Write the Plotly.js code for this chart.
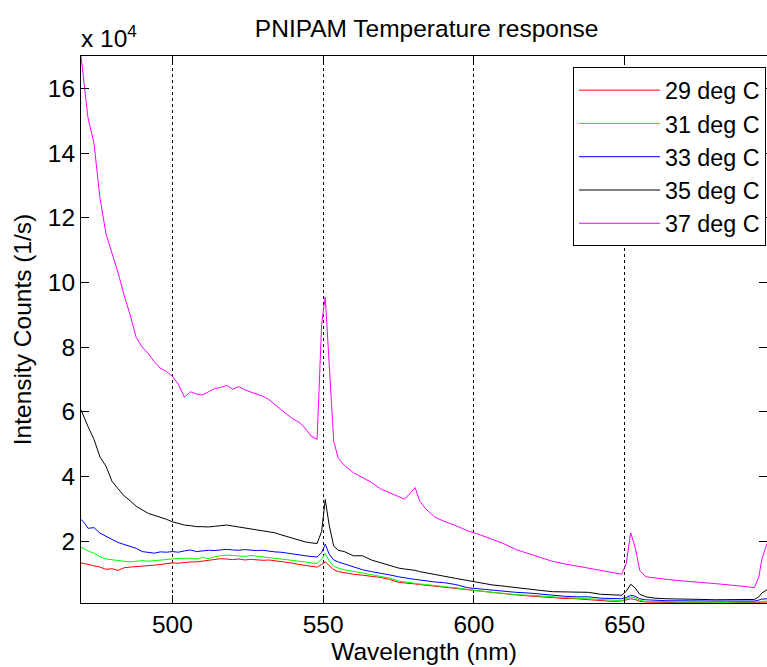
<!DOCTYPE html>
<html>
<head>
<meta charset="utf-8">
<script src="https://cdn.plot.ly/plotly-3.0.1.min.js"></script>
<style>html,body{margin:0;padding:0;background:#fff;}#chart{width:767px;height:667px;}</style>
</head>
<body>
<div id="chart"></div>
<script>
// Wavelength (nm)
var wavelength = [469.7,471,472,474,476,478,480,482,484,486,488,490,492,494,496,498,500,502,504,506,508,510,512,514,516,518,520,522,524,526,528,530,532,534,536,538,540,542,544,546,548,549.5,550.7,552,553.5,555,557,560,563,566,569,572,575,577,579,580.5,582,584,587,590,594,598,602,606,610,614,618,622,626,630,634,638,642,646,649,650.5,652,653.5,655,657,660,664,668,672,676,680,684,688,691,693,694.5,695.5,697.2];
// Intensity counts (1/s), in units of 10^4
var i29 = [1.33,1.30,1.28,1.24,1.20,1.13,1.15,1.10,1.18,1.20,1.21,1.22,1.24,1.26,1.28,1.30,1.33,1.32,1.35,1.36,1.36,1.38,1.40,1.44,1.46,1.45,1.43,1.45,1.42,1.44,1.42,1.41,1.42,1.40,1.38,1.35,1.32,1.28,1.26,1.22,1.20,1.28,1.36,1.25,1.12,1.06,1.02,0.98,0.95,0.92,0.88,0.82,0.73,0.71,0.70,0.68,0.66,0.64,0.60,0.58,0.54,0.48,0.45,0.40,0.37,0.34,0.31,0.28,0.26,0.23,0.22,0.20,0.18,0.14,0.15,0.18,0.22,0.20,0.14,0.12,0.11,0.10,0.10,0.10,0.09,0.10,0.10,0.10,0.09,0.10,0.11,0.12,0.12];
var i31 = [1.82,1.75,1.70,1.63,1.52,1.45,1.42,1.40,1.38,1.36,1.37,1.40,1.38,1.40,1.43,1.45,1.46,1.47,1.46,1.48,1.45,1.50,1.46,1.52,1.55,1.57,1.56,1.55,1.53,1.56,1.54,1.52,1.50,1.48,1.46,1.44,1.41,1.38,1.36,1.33,1.31,1.45,1.62,1.40,1.22,1.17,1.12,1.07,1.02,0.97,0.92,0.86,0.77,0.74,0.72,0.70,0.68,0.66,0.62,0.60,0.56,0.50,0.46,0.42,0.38,0.35,0.33,0.30,0.28,0.26,0.24,0.22,0.20,0.17,0.16,0.22,0.28,0.25,0.17,0.14,0.13,0.12,0.12,0.12,0.11,0.11,0.11,0.12,0.11,0.12,0.13,0.14,0.15];
var i33 = [2.67,2.55,2.40,2.42,2.25,2.15,2.05,1.96,1.90,1.85,1.78,1.68,1.65,1.63,1.67,1.66,1.68,1.66,1.70,1.73,1.68,1.70,1.72,1.71,1.74,1.75,1.73,1.72,1.74,1.72,1.71,1.72,1.69,1.67,1.66,1.64,1.62,1.58,1.55,1.52,1.51,1.65,1.91,1.60,1.42,1.36,1.30,1.22,1.12,1.06,1.02,0.96,0.90,0.86,0.84,0.82,0.80,0.77,0.74,0.72,0.66,0.56,0.52,0.48,0.44,0.42,0.40,0.36,0.33,0.30,0.28,0.28,0.24,0.22,0.22,0.26,0.33,0.30,0.22,0.19,0.17,0.16,0.16,0.15,0.15,0.15,0.15,0.15,0.15,0.15,0.18,0.21,0.22];
var i35 = [6.06,5.75,5.55,5.15,4.60,4.32,3.85,3.62,3.40,3.25,3.08,2.97,2.86,2.80,2.75,2.68,2.60,2.55,2.50,2.48,2.45,2.45,2.44,2.46,2.48,2.50,2.47,2.44,2.42,2.40,2.36,2.33,2.30,2.26,2.20,2.14,2.08,2.03,1.98,1.95,1.93,2.30,3.29,2.50,1.85,1.72,1.68,1.55,1.55,1.42,1.33,1.24,1.17,1.14,1.12,1.10,1.06,1.02,0.96,0.92,0.85,0.78,0.72,0.65,0.61,0.56,0.52,0.48,0.44,0.43,0.43,0.42,0.36,0.34,0.33,0.45,0.67,0.55,0.36,0.28,0.24,0.22,0.22,0.21,0.20,0.19,0.20,0.19,0.21,0.20,0.28,0.40,0.50];
var i37 = [17.0,15.9,15.1,14.3,12.6,11.5,10.9,10.3,9.6,9.0,8.3,8.0,7.8,7.55,7.35,7.25,7.1,6.85,6.45,6.62,6.55,6.52,6.62,6.72,6.75,6.82,6.70,6.78,6.68,6.62,6.55,6.48,6.38,6.22,6.05,5.92,5.78,5.68,5.50,5.25,5.15,8.7,9.55,7.6,5.1,4.56,4.35,4.12,3.98,3.82,3.62,3.50,3.40,3.30,3.50,3.66,3.25,3.00,2.75,2.62,2.48,2.32,2.20,2.06,1.92,1.74,1.62,1.48,1.38,1.30,1.24,1.17,1.10,1.03,0.98,1.30,2.26,1.80,1.10,0.90,0.86,0.82,0.78,0.74,0.72,0.69,0.66,0.62,0.59,0.56,0.90,1.45,1.93];
var seriesNames = ['29 deg C','31 deg C','33 deg C','35 deg C','37 deg C'];
var seriesValues = [i29, i31, i33, i35, i37];
var seriesColors = ['#ff0000','#00ff00','#0000ff','#000000','#ff00ff'];
var xTicks = [500,550,600,650];
var yTicks = [2,4,6,8,10,12,14,16];

var FONT = 'Liberation Sans, Arial, Helvetica, sans-serif';
var FS = 24.5;
var traces = seriesValues.map(function(v, k){
  return {x: wavelength, y: v, type:'scatter', mode:'lines', name: seriesNames[k],
    legendgroup: 'g'+k,
    line:{color: seriesColors[k], width:1}};
});

var layout = {
  width:767, height:667,
  margin:{l:81, r:0, t:56, b:64},
  paper_bgcolor:'#fff', plot_bgcolor:'#fff',
  font:{family:FONT, size:FS, color:'#000'},
  title:{text:'PNIPAM Temperature response', font:{family:FONT, size:FS, color:'#000'}, x:0.5563, xanchor:'center', y:0.957, yanchor:'middle'},
  showlegend:true,
  legend:{x:0.9985, xanchor:'right', y:0.979, yanchor:'top', bgcolor:'#fff', bordercolor:'#000', borderwidth:1,
    font:{family:FONT, size:23.3, color:'#000'}, itemwidth:81, tracegroupgap:0, valign:'middle'},
  xaxis:{range:[469.7,697.2], tickvals:xTicks, ticks:'inside', ticklen:8, tickcolor:'#000',
    showline:true, linecolor:'#000', linewidth:1, mirror:'ticks', zeroline:false,
    showgrid:true, gridcolor:'#000', griddash:'dot', gridwidth:1, ticklabelstandoff:0,
    tickfont:{family:FONT, size:FS, color:'#000'},
    title:{text:'Wavelength (nm)', font:{family:FONT, size:FS, color:'#000'}, standoff:2}},
  yaxis:{range:[0.09,17.0], tickvals:yTicks, ticks:'inside', ticklen:8, tickcolor:'#000',
    showline:true, linecolor:'#000', linewidth:1, mirror:'ticks', zeroline:false, showgrid:false,
    tickfont:{family:FONT, size:FS, color:'#000'},
    title:{text:'Intensity Counts (1/s)', font:{family:FONT, size:FS, color:'#000'}, standoff:9}},
  annotations:[{xref:'paper', yref:'paper', x:0, y:1, xanchor:'left', yanchor:'bottom', yshift:2, xshift:-2,
    text:'x 10<sup>4</sup>', showarrow:false, font:{family:FONT, size:FS, color:'#000'}}]
};
Plotly.newPlot('chart', traces, layout, {staticPlot:true, displayModeBar:false});
</script>
</body>
</html>
